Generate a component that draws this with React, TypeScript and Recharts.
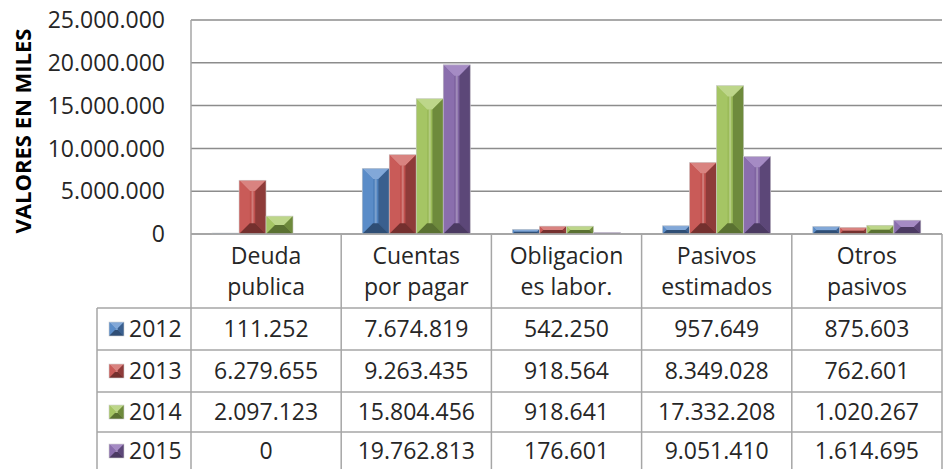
import React from "react";
import { BarChart, Bar, XAxis, YAxis, CartesianGrid } from "recharts";

const categories = [
  "Deuda\npublica",
  "Cuentas\npor pagar",
  "Obligacion\nes labor.",
  "Pasivos\nestimados",
  "Otros\npasivos",
];
const years = ["2012", "2013", "2014", "2015"];
const v2012 = [111252, 7674819, 542250, 957649, 875603];
const v2013 = [6279655, 9263435, 918564, 8349028, 762601];
const v2014 = [2097123, 15804456, 918641, 17332208, 1020267];
const v2015 = [0, 19762813, 176601, 9051410, 1614695];
const yTicks = [0, 5000000, 10000000, 15000000, 20000000, 25000000];

const series = [v2012, v2013, v2014, v2015];

// face, top, left, right, bottom
const palette = [
  ["#4F81BD", "#82A8D8", "#5A8CC8", "#3A5F8E", "#2F4E75"],
  ["#C0504D", "#D98380", "#C95B58", "#8E3B39", "#74302E"],
  ["#9BBB59", "#BDD68A", "#A5C564", "#6E8A3C", "#5A7131"],
  ["#8064A2", "#A58BC4", "#8A6EAD", "#5C4778", "#4B3A62"],
];

const data = categories.map((c, i) => ({
  name: c,
  y2012: v2012[i],
  y2013: v2013[i],
  y2014: v2014[i],
  y2015: v2015[i],
}));

const fmt = (n: number) => n.toString().replace(/\B(?=(\d{3})+(?!\d))/g, ".");

const W = 943;
const H = 469;
const PLOT_LEFT = 191;
const PLOT_RIGHT = 942;
const AXIS_Y = 234;
const BAND = (PLOT_RIGHT - PLOT_LEFT) / categories.length;
const ROW_LINES = [308, 350, 392, 432];
const ROW_CENTERS = [329, 371, 412, 451];
const LEG_LEFT = 97;
const LINE = "#a6a6a6";
const FONT = "'Open Sans', sans-serif";
const TXT = "#262626";

const BevelBar = (props: any) => {
  const { x, y, width: w, height: h, colors } = props;
  if (!h || h <= 0 || !w) return null;
  const d = Math.min(w * 0.4, h / 2);
  const [face, top, left, right, bottom] = colors;
  return (
    <g>
      <rect x={x} y={y} width={w} height={h} fill={face} />
      <polygon points={`${x},${y} ${x + w},${y} ${x + w - d},${y + d} ${x + d},${y + d}`} fill={top} />
      <polygon points={`${x},${y} ${x + d},${y + d} ${x + d},${y + h - d} ${x},${y + h}`} fill={left} />
      <polygon points={`${x + w},${y} ${x + w - d},${y + d} ${x + w - d},${y + h - d} ${x + w},${y + h}`} fill={right} />
      <polygon points={`${x},${y + h} ${x + d},${y + h - d} ${x + w - d},${y + h - d} ${x + w},${y + h}`} fill={bottom} />
      {h > 2 * d && (
        <line x1={x + w / 2} y1={y + d} x2={x + w / 2} y2={y + h - d} stroke="#ffffff" strokeOpacity={0.25} strokeWidth={2} />
      )}
      <rect x={x} y={y} width={w} height={h} fill="none" stroke="#d0d0d0" strokeWidth={0.6} />
    </g>
  );
};

const Swatch = ({ x, y, colors }: { x: number; y: number; colors: string[] }) => (
  <BevelBar x={x} y={y} width={15} height={14} colors={colors} />
);

const TableTick = (props: any) => {
  const { x, payload } = props;
  const idx = payload.index ?? categories.indexOf(payload.value);
  const left = x - BAND / 2;
  const right = x + BAND / 2;
  const lines = String(payload.value).split("\n");
  return (
    <g fontFamily={FONT} fontSize={23} fill={TXT}>
      <line x1={left} y1={AXIS_Y} x2={left} y2={H} stroke={LINE} strokeWidth={1.5} />
      {idx === categories.length - 1 && (
        <line x1={right} y1={AXIS_Y} x2={right} y2={H} stroke={LINE} strokeWidth={1.5} />
      )}
      {ROW_LINES.map((ry) => (
        <line key={ry} x1={left} y1={ry} x2={right} y2={ry} stroke={LINE} strokeWidth={1.5} />
      ))}
      <text x={x} y={264} textAnchor="middle">{lines[0]}</text>
      <text x={x} y={295} textAnchor="middle">{lines[1]}</text>
      {series.map((s, si) => (
        <text key={si} x={x} y={ROW_CENTERS[si] + 8} textAnchor="middle">
          {fmt(s[idx])}
        </text>
      ))}
      {idx === 0 && (
        <g>
          <line x1={LEG_LEFT} y1={ROW_LINES[0]} x2={LEG_LEFT} y2={H} stroke={LINE} strokeWidth={1.5} />
          {ROW_LINES.map((ry) => (
            <line key={ry} x1={LEG_LEFT} y1={ry} x2={left} y2={ry} stroke={LINE} strokeWidth={1.5} />
          ))}
          {years.map((yr, si) => (
            <g key={yr}>
              <Swatch x={109} y={ROW_CENTERS[si] - 7} colors={palette[si]} />
              <text x={129} y={ROW_CENTERS[si] + 8}>{yr}</text>
            </g>
          ))}
        </g>
      )}
    </g>
  );
};

const YLabel = (props: any) => {
  const { viewBox } = props;
  const cy = viewBox.y + viewBox.height / 2 + 4;
  return (
    <text
      x={22}
      y={cy}
      transform={`rotate(-90, 22, ${cy})`}
      textAnchor="middle"
      dominantBaseline="central"
      fontFamily={FONT}
      fontWeight="bold"
      fontSize={22}
      fill="#000"
    >
      VALORES EN MILES
    </text>
  );
};

export default function App() {
  return (
    <div style={{ position: "absolute", left: 0, top: 0, width: W, height: H, background: "#fff" }}>
      <BarChart
        width={W}
        height={H}
        data={data}
        margin={{ top: 20, right: W - PLOT_RIGHT, bottom: 0, left: 0 }}
        barCategoryGap="14%"
        barGap={0}
      >
        <CartesianGrid vertical={false} stroke="#8c8c8c" strokeWidth={1.5} />
        <XAxis
          dataKey="name"
          height={H - AXIS_Y}
          interval={0}
          tickLine={false}
          axisLine={{ stroke: LINE, strokeWidth: 1.5 }}
          tick={<TableTick />}
        />
        <YAxis
          width={PLOT_LEFT}
          domain={[0, 25000000]}
          ticks={yTicks}
          tickFormatter={fmt}
          tickLine={false}
          tickSize={6}
          tickMargin={20}
          axisLine={{ stroke: LINE, strokeWidth: 1.5 }}
          tick={{ fontFamily: FONT, fontSize: 23, fill: TXT }}
          label={<YLabel />}
        />
        {years.map((yr, i) => (
          <Bar
            key={yr}
            dataKey={`y${yr}`}
            name={yr}
            isAnimationActive={false}
            shape={(p: any) => <BevelBar {...p} colors={palette[i]} />}
          />
        ))}
      </BarChart>
    </div>
  );
}
